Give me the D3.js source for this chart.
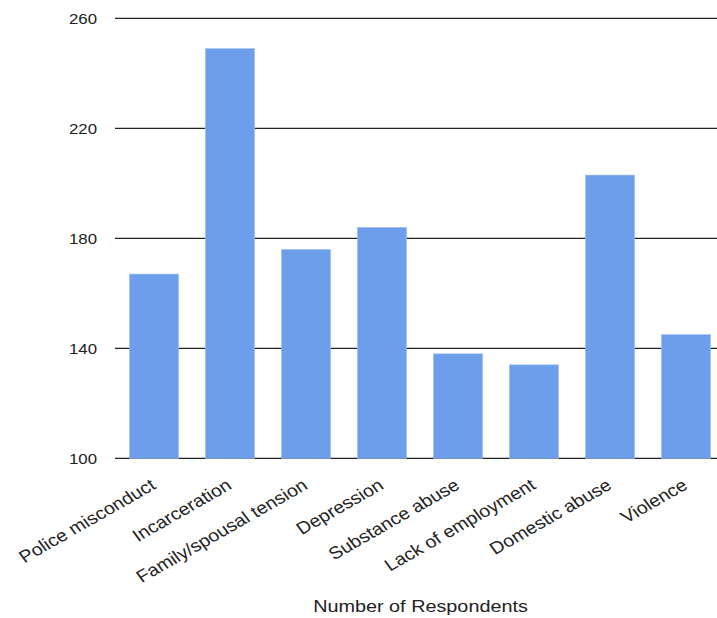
<!DOCTYPE html>
<html><head><meta charset="utf-8">
<script src="https://cdn.jsdelivr.net/npm/d3@7"></script>
<style>body{margin:0;background:#fff;} svg{display:block;font-family:"Liberation Sans",Arial,sans-serif;}</style>
</head><body>
<script>
const categories = ["Police misconduct","Incarceration","Family/spousal tension","Depression","Substance abuse","Lack of employment","Domestic abuse","Violence"];
const values = [167,249,176,184,138,134,203,145];
const yTicks = [100,140,180,220,260];
const xTitle = "Number of Respondents";

const W = 717, H = 618;
const SX = 1.18; // horizontal stretch of the reference rendering
const svg = d3.select("body").append("svg").attr("width", W).attr("height", H);
const x = d3.scaleBand().domain(categories).range([116, 724]).paddingInner(0.35).paddingOuter(0.175);
const y = d3.scaleLinear().domain([100,260]).range([458.3, 18.3]);

svg.append("g").selectAll("line").data(yTicks).join("line")
  .attr("x1", 115).attr("x2", W).attr("y1", d=>y(d)).attr("y2", d=>y(d))
  .attr("stroke", "#222").attr("stroke-width", 1.3);
svg.append("g").selectAll("text").data(yTicks).join("text")
  .attr("transform", d=>`translate(97,${y(d)}) scale(1.12,1)`)
  .attr("dy","0.36em").attr("text-anchor","end")
  .attr("font-size", 15).attr("fill","#222").text(d=>d);

svg.append("g").selectAll("rect").data(values).join("rect")
  .attr("x", (d,i)=>x(categories[i])).attr("width", x.bandwidth())
  .attr("y", d=>y(d)).attr("height", d=>y(100)-y(d))
  .attr("fill", "#6d9eeb").attr("stroke","#a9c5f3").attr("stroke-width",0.6);

svg.append("g").selectAll("text").data(categories).join("text")
  .attr("transform", d=>`translate(${x(d)+x.bandwidth()/2+3},488) scale(1.14,1) rotate(-33)`)
  .attr("text-anchor","end").attr("font-size", 17.2).attr("fill","#222").text(d=>d);

svg.append("text").attr("transform", `translate(420.5,612) scale(${SX},1)`).attr("text-anchor","middle")
  .attr("font-size", 16.8).attr("fill","#222").text(xTitle);
</script>
</body></html>
